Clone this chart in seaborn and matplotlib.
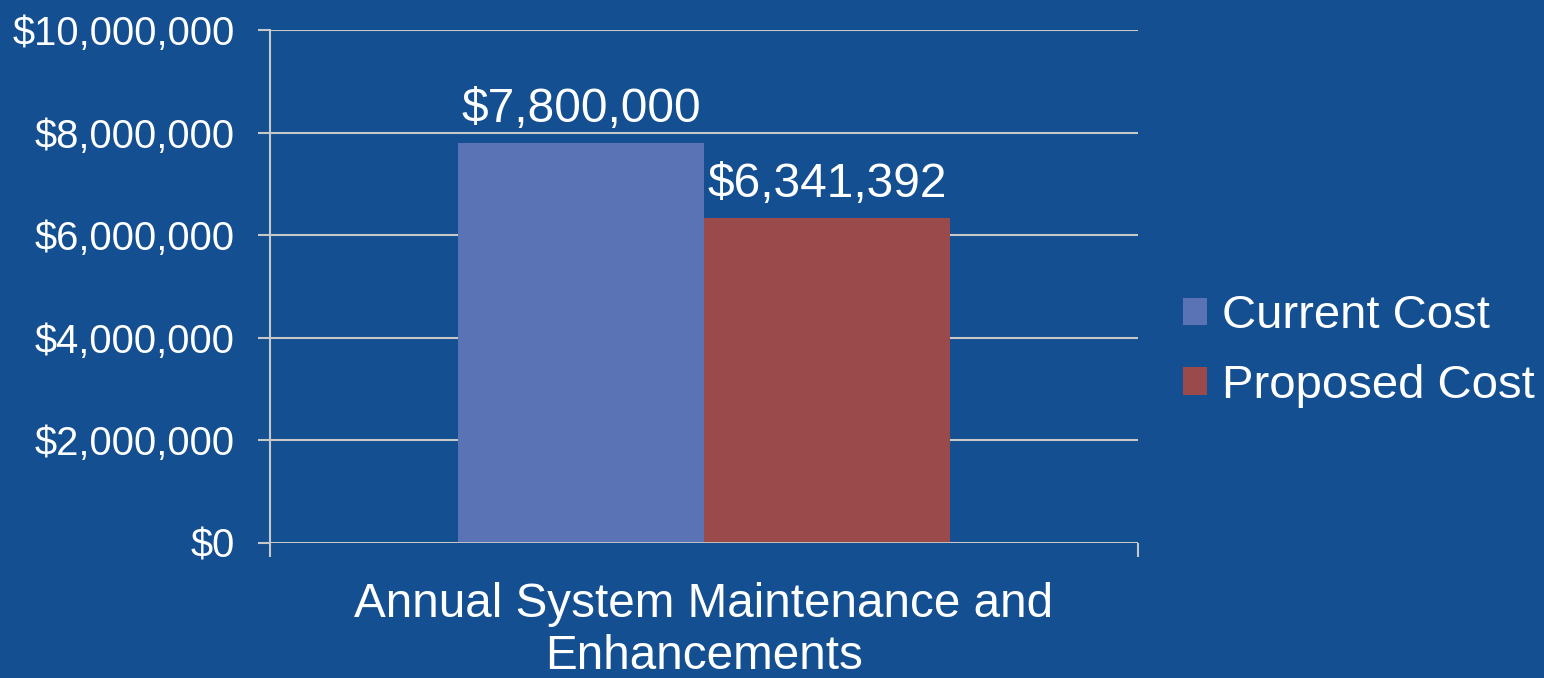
import matplotlib
matplotlib.use("Agg")
import matplotlib.pyplot as plt
import matplotlib.ticker as mticker
import seaborn as sns
import pandas as pd

categories = ["Annual System Maintenance and\nEnhancements"]
series = ["Current Cost", "Proposed Cost"]
values = [7800000, 6341392]
value_labels = ["$7,800,000", "$6,341,392"]
y_ticks = [0, 2000000, 4000000, 6000000, 8000000, 10000000]

BG = "#134F91"
GRID = "#C8C8C8"
colors = ["#5A73B5", "#9A4A4B"]

sns.set_theme(style="white")
plt.rcParams["font.family"] = ["Liberation Sans", "DejaVu Sans"]

df = pd.DataFrame({"category": categories * len(series), "series": series, "value": values})

fig = plt.figure(figsize=(15.44, 6.78), dpi=100, facecolor=BG)
ax = fig.add_axes([270/1544, 1-543/678, (1138-270)/1544, (543-30)/678])
ax.set_facecolor(BG)

sns.barplot(data=df, x="category", y="value", hue="series", palette=colors,
            width=0.567, gap=0, ax=ax, saturation=1, legend=True, edgecolor="none")

ax.set_xlim(-0.5, 0.5)
ax.set_ylim(0, 10000000)
ax.set_yticks(y_ticks)
ax.yaxis.set_major_formatter(mticker.FuncFormatter(lambda v, p: f"${v:,.0f}"))
ax.grid(axis="y", color=GRID, linewidth=1.5)
ax.set_axisbelow(True)
for s in ["top", "right", "bottom"]:
    ax.spines[s].set_visible(False)
ax.spines["left"].set_color(GRID)
ax.spines["left"].set_linewidth(1.5)
ax.axhline(0, color=GRID, linewidth=2, zorder=3)

ax.tick_params(axis="y", which="major", left=True, direction="out", length=8.5,
               width=1.5, color=GRID, labelcolor="white", labelsize=28.8, pad=17)
ax.tick_params(axis="x", which="major", length=0, labelcolor="white", labelsize=34.3, pad=28)
ax.set_xticks([-0.5, 0.5], minor=True)
ax.tick_params(axis="x", which="minor", bottom=True, direction="out", length=10,
               width=1.5, color=GRID)
ax.set_xlabel("")
ax.set_ylabel("")
for lbl in ax.get_xticklabels():
    lbl.set_linespacing(1.2)

for cont, txt in zip(ax.containers, value_labels):
    ax.bar_label(cont, labels=[txt], color="white", fontsize=34.5, padding=8)

h, l = ax.get_legend_handles_labels()
ax.get_legend().remove()
leg = fig.legend(h, l, loc="center left", bbox_to_anchor=(1164/1544, 1-351/678),
                 frameon=False, fontsize=34, handlelength=0.52, handleheight=0.52,
                 handletextpad=0.3, labelspacing=0.54, borderaxespad=0)
for t in leg.get_texts():
    t.set_color("white")

fig.savefig("out.png", dpi=100, facecolor=BG)
